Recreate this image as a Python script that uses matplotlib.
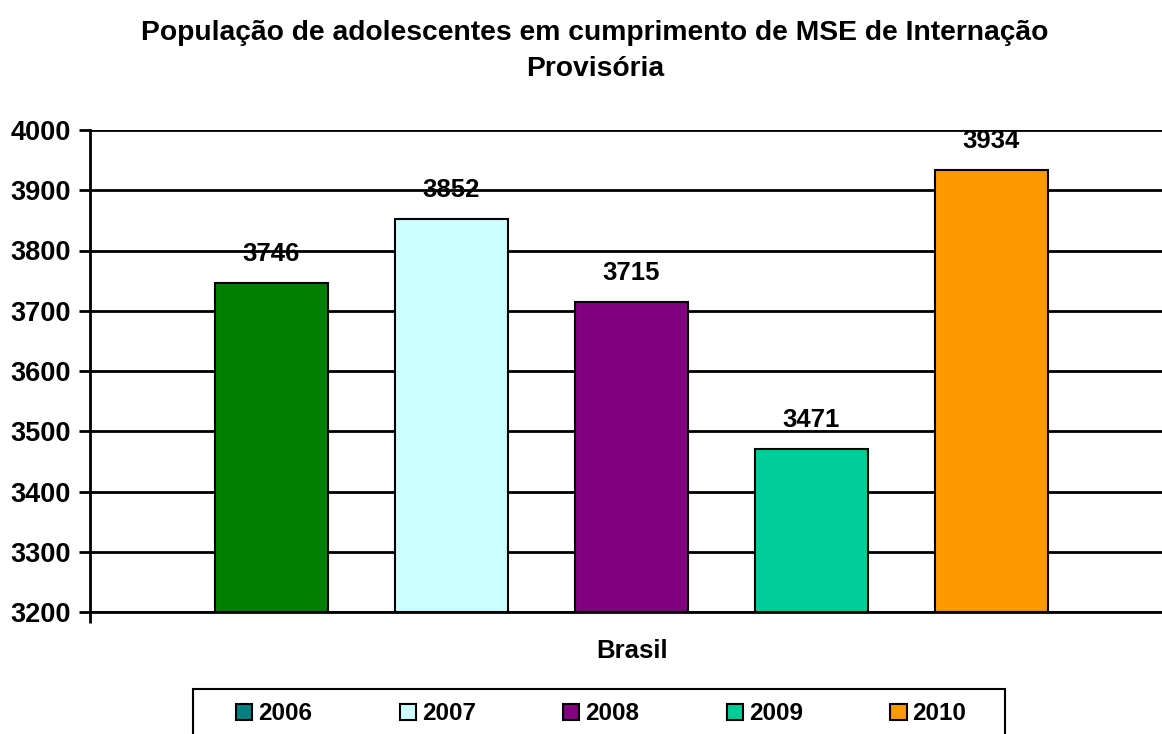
import numpy as np
import matplotlib.pyplot as plt
from matplotlib.patches import Patch, Rectangle

anos = ['2006', '2007', '2008', '2009', '2010']
valores = [3746, 3852, 3715, 3471, 3934]
cores_barras = ['#008000', '#CCFFFF', '#800080', '#00CC99', '#FF9900']
cores_legenda = ['#008080', '#CCFFFF', '#800080', '#00CC99', '#FF9900']
yticks = [3200, 3300, 3400, 3500, 3600, 3700, 3800, 3900, 4000]

plt.rcParams['font.family'] = ['Liberation Sans', 'DejaVu Sans']
plt.rcParams['font.weight'] = 'bold'

fig = plt.figure(figsize=(11.62, 7.34), dpi=100)
ax = fig.add_axes([90/1162, 1-612/734, 1-90/1162, (612-130)/734])

x = np.arange(len(anos))
ax.set_axisbelow(True)
ax.grid(axis='y', color='black', linewidth=2)
ax.bar(x, np.array(valores) - 3200, bottom=3200, width=0.628,
       color=cores_barras, edgecolor='black', linewidth=1.5, zorder=3)
for xi, v in zip(x, valores):
    ax.text(xi, v + 48, str(v), ha='center', va='center', fontsize=18.5, fontweight='bold')

ax.set_ylim(3200, 4000)
ax.set_xlim(-1.008, 4.95)
ax.set_yticks(yticks)
ax.tick_params(axis='y', labelsize=19.5, length=8, width=2, direction='out', pad=6)
ax.set_xticks([-1.008])
ax.set_xticklabels([''])
ax.tick_params(axis='x', length=8, width=2, direction='out')
for s in ['top', 'right']:
    ax.spines[s].set_visible(False)
ax.spines['left'].set_linewidth(2)
ax.spines['bottom'].set_linewidth(2)
for lab in ax.get_yticklabels():
    lab.set_fontweight('bold')

fig.text(632/1162, 1-651/734, 'Brasil', ha='center', va='center', fontsize=18.5, fontweight='bold')
fig.text(595/1162, 1-51/734, 'População de adolescentes em cumprimento de MSE de Internação\nProvisória',
         ha='center', va='center', fontsize=20.3, fontweight='bold', linespacing=1.45)

# legenda (a cor de 2006 na legenda difere da barra, como no original)
handles = [Patch(facecolor=c, edgecolor='black', linewidth=1.5) for c in cores_legenda]
leg = fig.legend(handles, anos, loc='center left', ncol=5,
                 bbox_to_anchor=(236/1162, 1-714/734),
                 prop={'size': 17.5, 'weight': 'bold'}, frameon=False,
                 handlelength=0.66, handleheight=0.66, handletextpad=0.25,
                 columnspacing=3.6, borderpad=0, borderaxespad=0)
fig.add_artist(Rectangle((193/1162, -0.1), (1005-193)/1162, 0.1 + 1-689/734,
                         transform=fig.transFigure, fill=False,
                         edgecolor='black', linewidth=1.5))

fig.savefig('out.png', dpi=100)
